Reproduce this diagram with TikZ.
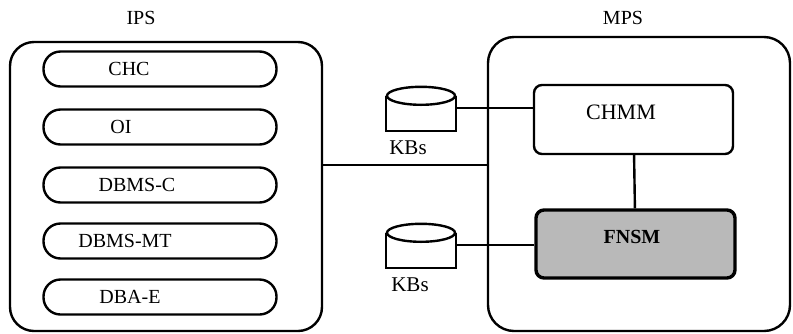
\documentclass[tikz,border=0pt]{standalone}
\usepackage{fontspec}
\setmainfont{Liberation Serif}
\begin{document}
\begin{tikzpicture}[x=1pt,y=-1pt,
  font=\fontsize{20}{24}\selectfont,
  line width=2.4pt,
  bigbox/.style={draw, rounded corners=24pt, inner sep=0pt},
  pill/.style={draw, rounded corners=17pt, minimum width=233pt, minimum height=35pt, inner sep=0pt},
  modbox/.style={draw, rounded corners=8pt, minimum width=199pt, minimum height=69pt, inner sep=0pt},
  kbnode/.style={inner sep=0pt, minimum width=68pt, minimum height=42pt},
  lbl/.style={inner sep=0pt}
]
\useasboundingbox (0,0) rectangle (793,333);
% IPS
\node[lbl] (ipsl) at (141,18) {IPS};
\node[bigbox, minimum width=312pt, minimum height=289pt] (ips) at (166,186.5) {};
\node[pill] (p1) at (160,69) {};
\node[pill] (p2) at (160,127) {};
\node[pill] (p3) at (160,185) {};
\node[pill] (p4) at (160,241) {};
\node[pill] (p5) at (160,297) {};
\node[lbl] at (129,69) {CHC};
\node[lbl] at (121,127) {OI};
\node[lbl] at (137,185) {DBMS-C};
\node[lbl] at (125,241) {DBMS-MT};
\node[lbl] at (130,297) {DBA-E};
% MPS
\node[lbl] (mpsl) at (623,18) {MPS};
\node[bigbox, rounded corners=26pt, minimum width=302pt, minimum height=294pt] (mps) at (639,184) {};
\node[modbox] (chmm) at (633.5,119.5) {};
\node[lbl, font=\fontsize{22}{26}\selectfont] at (621,112) {CHMM};
\node[modbox, fill=gray!55, line width=3.4pt, minimum height=68pt] (fnsm) at (635.5,244) {};
\node[lbl] at (632,237) {\bfseries FNSM};
\draw (chmm) -- (fnsm);
% link
\coordinate (link) at (400,165);
\draw (ips.east |- link) -- (mps.west |- link);
% KBs
\node[kbnode] (kb1) at (421,109) {};
\node[kbnode] (kb2) at (421,246) {};
\foreach \k in {kb1,kb2}{
  \draw ([yshift=-9pt]\k.north west) -- (\k.south west) -- (\k.south east) -- ([yshift=-9pt]\k.north east);
  \draw ([yshift=-9pt]\k.north) ellipse [x radius=34pt, y radius=9pt];
}
\node[lbl, font=\fontsize{21}{25}\selectfont] at (408,148) {KBs};
\node[lbl, font=\fontsize{21}{25}\selectfont] at (410,285) {KBs};
\draw ([yshift=1pt]kb1.east) -- ([yshift=1pt]kb1.east -| chmm.west);
\draw ([yshift=1pt]kb2.east) -- ([yshift=1pt]kb2.east -| fnsm.west);
\end{tikzpicture}
\end{document}
